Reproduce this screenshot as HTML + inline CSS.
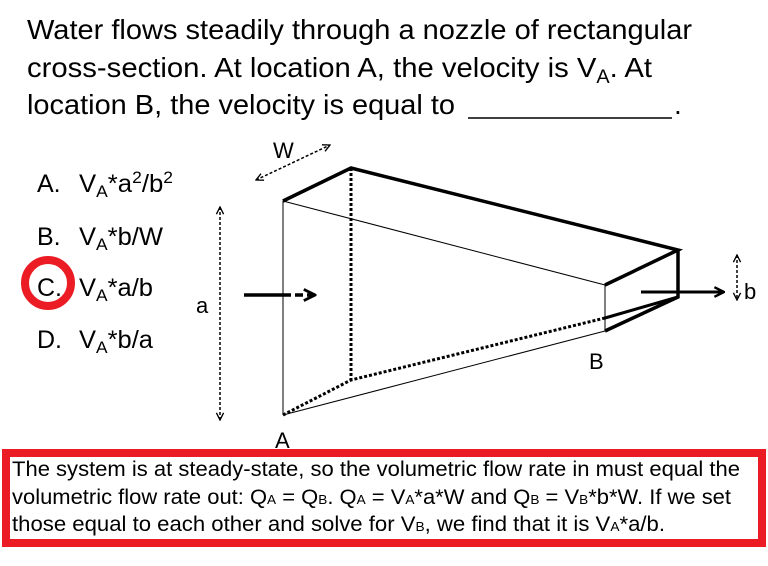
<!DOCTYPE html>
<html><head><meta charset="utf-8"><style>
html,body{margin:0;padding:0;background:#fff;}
svg{display:block;font-family:"Liberation Sans",Arial,sans-serif;}
</style></head><body>
<svg width="768" height="566" viewBox="0 0 768 566" xmlns="http://www.w3.org/2000/svg">
<defs>
<marker id="ah" viewBox="0 0 10 10" refX="9" refY="5" markerWidth="6" markerHeight="6" orient="auto-start-reverse"><path d="M1,1 L9,5 L1,9" fill="none" stroke="#000" stroke-width="1.5"/></marker>
<marker id="ahb" viewBox="0 0 10 10" refX="9" refY="5" markerWidth="4" markerHeight="4" orient="auto"><path d="M1,1 L9,5 L1,9" fill="none" stroke="#000" stroke-width="2"/></marker>
</defs>
<g font-size="28" fill="#000">
<text x="27" y="39" textLength="665" lengthAdjust="spacingAndGlyphs">Water flows steadily through a nozzle of rectangular</text>
<text x="27" y="77" textLength="625" lengthAdjust="spacingAndGlyphs">cross-section. At location A, the velocity is V<tspan font-size="19" dy="6">A</tspan><tspan dy="-6">.  At</tspan></text>
<text x="27" y="114" textLength="428" lengthAdjust="spacingAndGlyphs">location B, the velocity is equal to</text>
<text x="674" y="114">.</text>
</g>
<line x1="468" y1="118" x2="672" y2="118" stroke="#000" stroke-width="1.5"/>
<g font-size="25" fill="#000">
<text x="37" y="192">A.</text><text x="79" y="192" textLength="94" lengthAdjust="spacingAndGlyphs">V<tspan font-size="17" dy="5">A</tspan><tspan dy="-5">*a</tspan><tspan font-size="17" dy="-9">2</tspan><tspan dy="9">/b</tspan><tspan font-size="17" dy="-9">2</tspan></text>
<text x="37" y="245">B.</text><text x="79" y="245" textLength="84" lengthAdjust="spacingAndGlyphs">V<tspan font-size="17" dy="5">A</tspan><tspan dy="-5">*b/W</tspan></text>
<text x="37" y="296">C.</text><text x="79" y="296" textLength="74" lengthAdjust="spacingAndGlyphs">V<tspan font-size="17" dy="5">A</tspan><tspan dy="-5">*a/b</tspan></text>
<text x="37" y="348">D.</text><text x="79" y="348" textLength="74" lengthAdjust="spacingAndGlyphs">V<tspan font-size="17" dy="5">A</tspan><tspan dy="-5">*b/a</tspan></text>
</g>
<circle cx="48" cy="283" r="23" fill="none" stroke="#ec1c24" stroke-width="8"/>
<g stroke="#000" fill="none">
<line x1="283" y1="201" x2="605" y2="285" stroke-width="1"/>
<line x1="283" y1="201" x2="283" y2="415" stroke-width="1"/>
<line x1="283" y1="415" x2="605" y2="331" stroke-width="1"/>
<line x1="605" y1="285" x2="605" y2="331" stroke-width="1"/>
<line x1="351" y1="168" x2="351" y2="380" stroke-width="3" stroke-dasharray="3,2"/>
<polyline points="283,415 351,380 605,318" stroke-width="3" stroke-dasharray="3,2"/>
<polyline points="283,201 351,168 678,250 605,285" stroke-width="3.5"/>
<polyline points="678,250 678,297 605,331" stroke-width="3.5"/>
<line x1="605" y1="318" x2="678" y2="297" stroke-width="3"/>
<line x1="244" y1="295" x2="283" y2="295" stroke-width="3.5"/>
<line x1="283" y1="295" x2="315" y2="295" stroke-width="3.5" stroke-dasharray="8,4" marker-end="url(#ahb)"/>
<line x1="641" y1="292" x2="724" y2="292" stroke-width="3" marker-end="url(#ahb)"/>
<line x1="220" y1="207" x2="220" y2="420" stroke-width="1.5" stroke-dasharray="3,2" marker-start="url(#ah)" marker-end="url(#ah)"/>
<line x1="737" y1="255" x2="737" y2="300" stroke-width="1.5" stroke-dasharray="3,2" marker-start="url(#ah)" marker-end="url(#ah)"/>
<line x1="256" y1="180" x2="330" y2="145" stroke-width="1.5" stroke-dasharray="3,2" marker-start="url(#ah)" marker-end="url(#ah)"/>
</g>
<g font-size="22" fill="#000">
<text x="273" y="158">W</text>
<text x="196" y="313">a</text>
<text x="744" y="299">b</text>
<text x="589" y="369">B</text>
<text x="275" y="448">A</text>
</g>
<rect x="6" y="453" width="756" height="90" fill="#fff" stroke="#ec1c24" stroke-width="8"/>
<g font-size="21" fill="#000">
<text x="12" y="476" textLength="728" lengthAdjust="spacingAndGlyphs">The system is at steady-state, so the volumetric flow rate in must equal the</text>
<text x="12" y="504" textLength="719" lengthAdjust="spacingAndGlyphs">volumetric flow rate out: Q<tspan font-size="13">A</tspan> = Q<tspan font-size="13">B</tspan>. Q<tspan font-size="13">A</tspan> = V<tspan font-size="13">A</tspan>*a*W and Q<tspan font-size="13">B</tspan> = V<tspan font-size="13">B</tspan>*b*W. If we set</text>
<text x="12" y="531" textLength="653" lengthAdjust="spacingAndGlyphs">those equal to each other and solve for V<tspan font-size="13">B</tspan>, we find that it is V<tspan font-size="13">A</tspan>*a/b.</text>
</g>
</svg>
</body></html>
